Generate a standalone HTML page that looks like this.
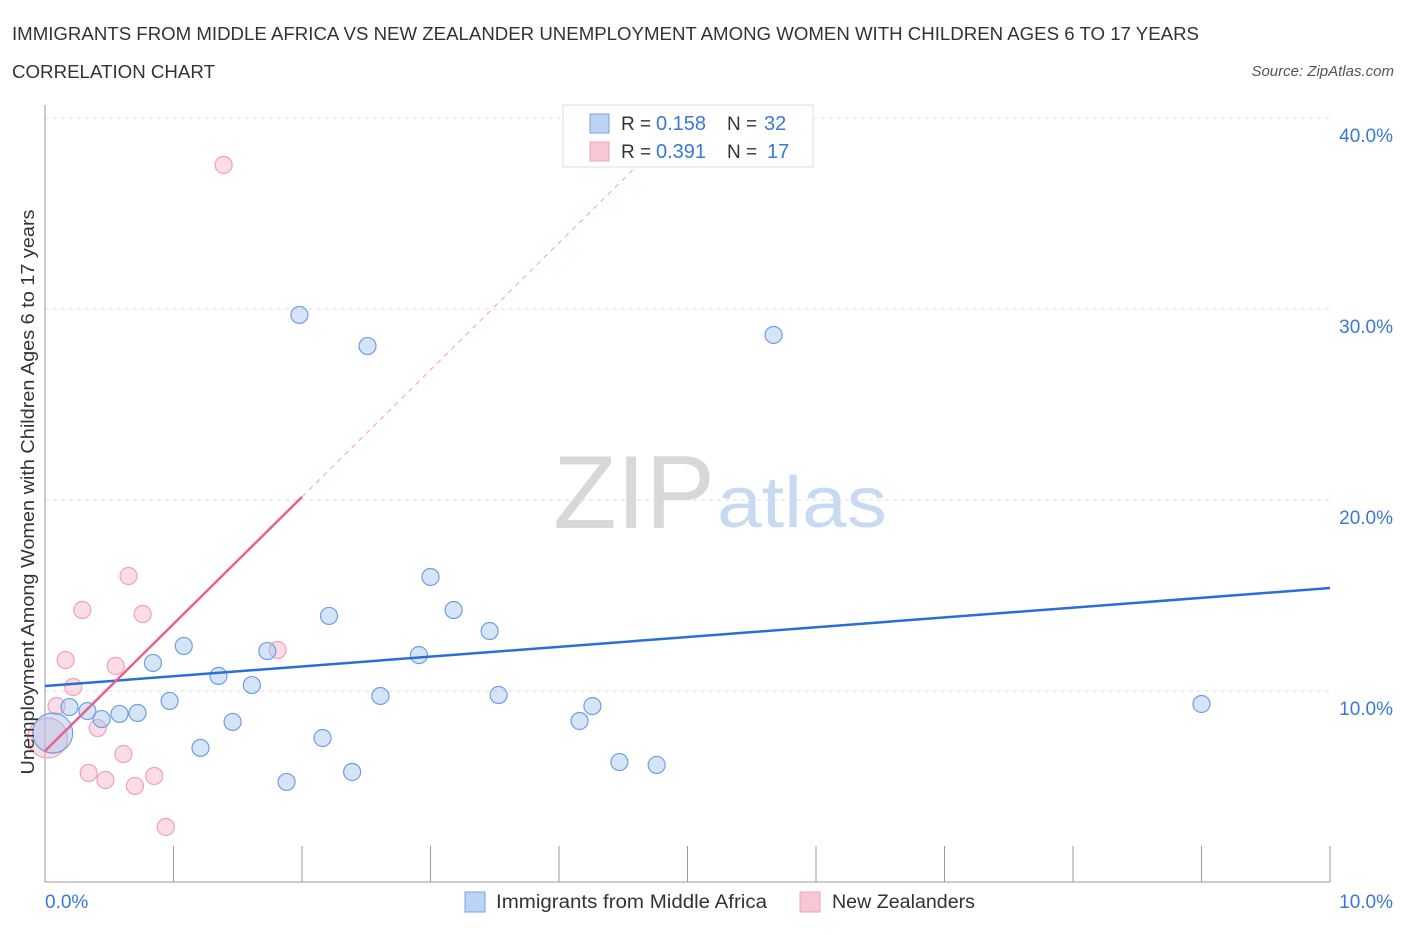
<!DOCTYPE html>
<html><head><meta charset="utf-8"><style>
body{margin:0;background:#fff;font-family:"Liberation Sans",sans-serif}
svg text{font-family:"Liberation Sans",sans-serif}
</style></head><body>
<svg width="1406" height="930" viewBox="0 0 1406 930">
<text x="12" y="40" font-size="18" fill="#333" textLength="1187" lengthAdjust="spacingAndGlyphs">IMMIGRANTS FROM MIDDLE AFRICA VS NEW ZEALANDER UNEMPLOYMENT AMONG WOMEN WITH CHILDREN AGES 6 TO 17 YEARS</text>
<text x="12" y="78" font-size="18" fill="#333" textLength="203" lengthAdjust="spacingAndGlyphs">CORRELATION CHART</text>
<text x="1394" y="76" font-size="15" fill="#555" font-style="italic" text-anchor="end">Source: ZipAtlas.com</text>
<g>
<text x="553" y="528" font-size="104" fill="#d8d8d8" font-family="Liberation Serif,serif" textLength="162" lengthAdjust="spacingAndGlyphs">ZIP</text>
<text x="717" y="527" font-size="72" fill="#c8daf2" textLength="170" lengthAdjust="spacingAndGlyphs">atlas</text>
</g>
<g id="grid"></g>
<g id="axes"></g>
<g id="marks"></g>
<text x="-492" y="34" transform="rotate(-90)" font-size="18" fill="#333" text-anchor="middle" textLength="565" lengthAdjust="spacingAndGlyphs">Unemployment Among Women with Children Ages 6 to 17 years</text>
<g>
<rect x="563" y="105" width="250" height="62" fill="#fff" stroke="#ddd"/>
<rect x="590" y="114" width="19" height="19" fill="#bcd3f5" stroke="#7aa3e0"/>
<rect x="590" y="142" width="19" height="19" fill="#f9c6d4" stroke="#f0a0b8"/>
<text x="621" y="130" font-size="19" fill="#333">R =</text><text x="656" y="130" font-size="20" fill="#3a78d8">0.158</text>
<text x="727" y="130" font-size="19" fill="#333">N =</text><text x="764" y="130" font-size="20" fill="#3a78d8">32</text>
<text x="621" y="158" font-size="19" fill="#333">R =</text><text x="656" y="158" font-size="20" fill="#3a78d8">0.391</text>
<text x="727" y="158" font-size="19" fill="#333">N =</text><text x="767" y="158" font-size="20" fill="#3a78d8">17</text>
</g>
<g>
<rect x="465" y="892" width="20" height="20" fill="#bcd3f5" stroke="#7aa3e0"/>
<text x="496" y="908" font-size="19" fill="#333" textLength="271" lengthAdjust="spacingAndGlyphs">Immigrants from Middle Africa</text>
<rect x="800" y="892" width="20" height="20" fill="#f9c6d4" stroke="#f0a0b8"/>
<text x="832" y="908" font-size="19" fill="#333" textLength="143" lengthAdjust="spacingAndGlyphs">New Zealanders</text>
</g>
</svg>
<script>
const blueX=[0.06,0.19,0.33,0.44,0.58,0.72,0.84,0.97,1.08,1.21,1.35,1.46,1.61,1.73,1.88,1.98,2.16,2.21,2.39,2.51,2.61,2.91,3.00,3.18,3.46,3.53,4.16,4.26,4.47,4.76,5.67,9.00];
const blueY=[7.80,9.16,8.95,8.53,8.80,8.85,11.47,9.48,12.36,7.02,10.79,8.38,10.31,12.09,5.24,29.69,7.54,13.93,5.76,28.06,9.74,11.88,15.97,14.24,13.14,9.79,8.43,9.21,6.28,6.13,28.64,9.32];
const pinkX=[0.02,0.09,0.16,0.22,0.29,0.34,0.41,0.47,0.55,0.61,0.65,0.70,0.76,0.85,0.94,1.39,1.81];
const pinkY=[7.54,9.21,11.62,10.21,14.24,5.71,8.06,5.34,11.31,6.70,16.02,5.03,14.03,5.55,2.88,37.54,12.15];
const blueTrend=[10.26,15.39];
const pinkTrend=[6.86,20.16];
const yTicks=[10,20,30,40];
const yTickLabels=["10.0%","20.0%","30.0%","40.0%"];
const xTickVals=[0,1,2,3,4,5,6,7,8,9,10];
const NS="http://www.w3.org/2000/svg";
const sx=v=>45+v*128.5, sy=v=>882-v*19.1;
function mk(tag,attrs,parent){const e=document.createElementNS(NS,tag);for(const k in attrs)e.setAttribute(k,attrs[k]);parent.appendChild(e);return e;}
const grid=document.getElementById('grid'),axes=document.getElementById('axes'),marks=document.getElementById('marks');
yTicks.forEach((t,i)=>{
 const l=mk('line',{x1:45,x2:1330,y1:sy(t),y2:sy(t),stroke:'#ddd','stroke-dasharray':'4,4'},grid);
 
 
 const tx=mk('text',{x:1393,y:sy(t)+24,'font-size':19,fill:'#3a78d8','text-anchor':'end'},axes);
 tx.textContent=yTickLabels[i];
 
 
});
const ya=mk('line',{x1:45,x2:45,y1:105,y2:882,stroke:'#999'},axes);


const xa=mk('line',{x1:45,x2:1330,y1:882,y2:882,stroke:'#999'},axes);


xTickVals.forEach(t=>{
 const l=mk('line',{x1:sx(t),x2:sx(t),y1:846,y2:882,stroke:'#999'},axes);
 
 
});
const xl0=mk('text',{x:45,y:908,'font-size':19,fill:'#3a78d8'},axes);xl0.textContent='0.0%';


const xl1=mk('text',{x:1393,y:908,'font-size':19,fill:'#3a78d8','text-anchor':'end'},axes);xl1.textContent='10.0%';


function pt(x,y,big,fill,stroke){
 return mk('circle',{cx:sx(x),cy:sy(y),r:big?20:8.5,fill:fill,stroke:stroke,'stroke-width':1.2},marks);
}
pinkX.forEach((x,i)=>{const c=pt(x,pinkY[i],i===0,'rgba(248,180,200,0.45)','#f0a0b8');
 
 });
blueX.forEach((x,i)=>{const c=pt(x,blueY[i],i===0,'rgba(165,195,240,0.45)','#6e9fe2');
 
 });
const bl=mk('line',{x1:sx(0),y1:sy(blueTrend[0]),x2:sx(10),y2:sy(blueTrend[1]),stroke:'#2a6fd6','stroke-width':2.5},marks);


const slope=(pinkTrend[1]-pinkTrend[0])/2;
const pl=mk('line',{x1:sx(0),y1:sy(pinkTrend[0]),x2:sx(2),y2:sy(pinkTrend[1]),stroke:'#e8628e','stroke-width':2.5},marks);


const xe=(38-pinkTrend[0])/slope;
const pd=mk('line',{x1:sx(2),y1:sy(pinkTrend[1]),x2:sx(xe),y2:sy(38),stroke:'#f0a0b8','stroke-width':1,'stroke-dasharray':'5,5'},marks);


</script>
</body></html>
